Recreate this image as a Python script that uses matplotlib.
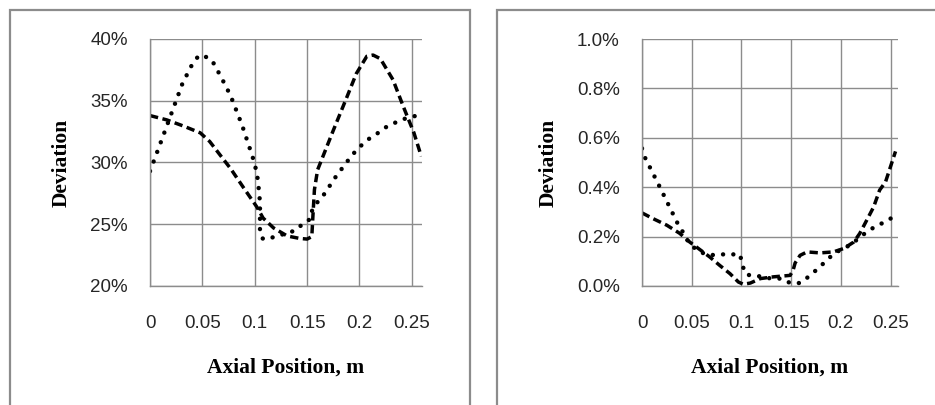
import matplotlib
matplotlib.use('Agg')
import numpy as np
import matplotlib.pyplot as plt
from matplotlib.patches import Rectangle
from matplotlib.ticker import FuncFormatter

# left panel (deviation, %)
xl_dash = [0, 0.016, 0.032, 0.048, 0.057, 0.067, 0.077, 0.089, 0.102, 0.108, 0.118, 0.131, 0.143, 0.150,
           0.1545, 0.1555, 0.157, 0.16, 0.175, 0.188, 0.197, 0.207, 0.213, 0.22, 0.232, 0.242, 0.252, 0.259]
yl_dash = [33.8, 33.45, 32.95, 32.4, 31.7, 30.6, 29.5, 28.0, 26.4, 25.5, 24.7, 24.05, 23.85, 23.8,
           24.0, 25.6, 27.8, 29.4, 32.6, 35.3, 37.2, 38.6, 38.7, 38.4, 36.7, 34.5, 32.4, 30.5]
xl_dot = [0, 0.004, 0.011, 0.021, 0.031, 0.040, 0.046, 0.050, 0.059, 0.068, 0.077, 0.088, 0.097, 0.1,
          0.103, 0.105, 0.105, 0.108, 0.118, 0.139, 0.148, 0.153, 0.155, 0.159, 0.166, 0.177, 0.188,
          0.197, 0.207, 0.217, 0.226, 0.236, 0.245, 0.255]
yl_dot = [29.3, 30.2, 31.8, 34.1, 36.4, 37.9, 38.6, 38.7, 38.3, 36.9, 35.4, 33.0, 30.7, 29.9,
          28.6, 26.8, 24.2, 23.8, 23.95, 24.5, 25.2, 25.4, 26.2, 26.7, 27.4, 28.8, 30.05,
          31.0, 31.8, 32.35, 32.9, 33.3, 33.6, 33.8]

# right panel (deviation, %)
xr_dash = [0, 0.011, 0.025, 0.038, 0.048, 0.058, 0.068, 0.078, 0.0885, 0.097, 0.102, 0.109, 0.119, 0.132,
           0.149, 0.152, 0.154, 0.159, 0.166, 0.179, 0.1925, 0.203, 0.213, 0.219, 0.226, 0.233, 0.239,
           0.245, 0.255]
yr_dash = [0.296, 0.273, 0.246, 0.213, 0.178, 0.148, 0.118, 0.084, 0.05, 0.016, 0.007, 0.012, 0.03, 0.037,
           0.043, 0.064, 0.093, 0.124, 0.138, 0.134, 0.138, 0.152, 0.178, 0.2125, 0.266, 0.32, 0.388,
           0.422, 0.545]
xr_dot = [0, 0.003, 0.008, 0.0175, 0.0265, 0.0355, 0.041, 0.048, 0.058, 0.068, 0.078, 0.088, 0.0986, 0.1003,
          0.1036, 0.1087, 0.119, 0.130, 0.1406, 0.149, 0.159, 0.1673, 0.1757, 0.184, 0.191, 0.199,
          0.209, 0.2177, 0.226, 0.234, 0.2445, 0.253]
yr_dot = [0.557, 0.52, 0.48, 0.404, 0.33, 0.256, 0.219, 0.169, 0.138, 0.1245, 0.128, 0.128, 0.128, 0.097,
          0.05, 0.043, 0.039, 0.030, 0.030, 0.012, 0.012, 0.037, 0.066, 0.097, 0.124, 0.145,
          0.165, 0.192, 0.219, 0.239, 0.26, 0.28]

xticks = [0, 0.05, 0.1, 0.15, 0.2, 0.25]
xticklabels = ['0', '0.05', '0.1', '0.15', '0.2', '0.25']

W, H = 935, 405
fig = plt.figure(figsize=(W / 100, H / 100), dpi=100)
grey = '#8c8c8c'

# chart frames
fig.add_artist(Rectangle((10 / W, -0.1), 459.5 / W, 1.1 - 10.5 / H, transform=fig.transFigure,
                         fill=False, edgecolor=grey, lw=1.6))
fig.add_artist(Rectangle((497 / W, -0.1), 0.5, 1.1 - 10.5 / H, transform=fig.transFigure,
                         fill=False, edgecolor=grey, lw=1.6))


def style(ax, xmax, ylim, yticks, fmt):
    ax.set_xlim(0, xmax)
    ax.set_ylim(*ylim)
    ax.set_xticks(xticks)
    ax.set_xticklabels(xticklabels)
    ax.set_yticks(yticks)
    ax.yaxis.set_major_formatter(FuncFormatter(lambda v, p: fmt.format(v)))
    ax.grid(True, color=grey, lw=1.0)
    ax.set_axisbelow(True)
    for s in ['top', 'right']:
        ax.spines[s].set_visible(False)
    for s in ['left', 'bottom']:
        ax.spines[s].set_color(grey)
        ax.spines[s].set_linewidth(1.0)
    ax.tick_params(length=0, labelsize=13.5, labelcolor='#262626')
    ax.tick_params(axis='x', pad=21)
    ax.tick_params(axis='y', pad=16)
    for t in ax.get_xticklabels() + ax.get_yticklabels():
        t.set_family('Liberation Sans')
    ax.set_xlabel('Axial Position, m', family='Liberation Serif', fontweight='bold', fontsize=15.5, labelpad=18)
    ax.set_ylabel('Deviation', family='Liberation Serif', fontweight='bold', fontsize=15.5, labelpad=13)


def draw(ax, xd, yd, xo, yo):
    ax.plot(xd, yd, color='black', lw=2.5, linestyle=(0, (2.4, 1.3)), dash_capstyle='butt')
    ax.plot(xo, yo, color='black', lw=3.2, linestyle=(0, (0.01, 2.3)), dash_capstyle='round')


ax1 = fig.add_axes([150 / W, (H - 286) / H, 272 / W, 247 / H])
draw(ax1, xl_dash, yl_dash, xl_dot, yl_dot)
style(ax1, 0.2597, (20, 40), [20, 25, 30, 35, 40], '{:.0f}%')

ax2 = fig.add_axes([642 / W, (H - 286) / H, 256 / W, 247 / H])
draw(ax2, xr_dash, yr_dash, xr_dot, yr_dot)
style(ax2, 0.2575, (0, 1.0), [0, 0.2, 0.4, 0.6, 0.8, 1.0], '{:.1f}%')

fig.savefig('out.png', dpi=100)
